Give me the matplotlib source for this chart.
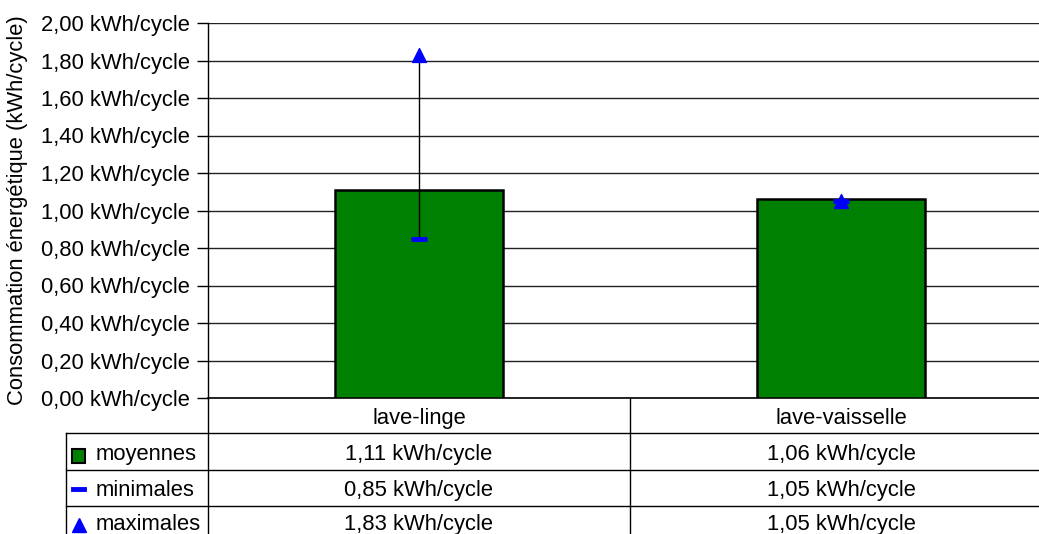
import numpy as np
import matplotlib.pyplot as plt
from matplotlib.transforms import blended_transform_factory
from matplotlib.lines import Line2D
from matplotlib.patches import Rectangle

plt.rcParams['font.family'] = ['Liberation Sans', 'DejaVu Sans']

# donnees
categories = ["lave-linge", "lave-vaisselle"]
moyennes = [1.11, 1.06]
minimales = [0.85, 1.05]
maximales = [1.83, 1.05]
row_labels = ["moyennes", "minimales", "maximales"]
yticks = [0.0, 0.2, 0.4, 0.6, 0.8, 1.0, 1.2, 1.4, 1.6, 1.8, 2.0]

def fmt(v):
    return f"{v:.2f}".replace(".", ",") + " kWh/cycle"

W, H = 1039, 534
fig = plt.figure(figsize=(W / 100, H / 100), dpi=100)

# axe en pixels (le bord droit depasse l'image comme dans l'original)
left, right, top, bottom = 208, 1052, 23, 398
ax = fig.add_axes([left / W, 1 - bottom / H, (right - left) / W, (bottom - top) / H])

x = np.arange(len(categories)) + 0.5
green = "#008000"
blue = "#0000ff"
fs = 15.8

ax.bar(x, moyennes, width=0.4, color=green, edgecolor="black", linewidth=1.8, zorder=3)
for xi, lo, hi in zip(x, minimales, maximales):
    ax.plot([xi, xi], [lo, hi], color="black", lw=1, zorder=4)
ax.scatter(x, minimales, marker="_", s=140, color=blue, linewidths=3.5, zorder=5)
ax.scatter(x, maximales, marker="^", s=100, color=blue, zorder=6)

ax.set_xlim(0, 2)
ax.set_ylim(0, 2)
ax.set_yticks(yticks)
ax.set_yticklabels([fmt(v) for v in yticks], fontsize=fs)
ax.tick_params(axis="y", length=8, width=1, pad=5, direction="out")
ax.tick_params(axis="x", bottom=False, labelbottom=False)
ax.grid(axis="y", color="#222222", lw=1, zorder=0)
for s in ["top", "right"]:
    ax.spines[s].set_visible(False)
ax.spines["left"].set_linewidth(1)
ax.spines["bottom"].set_linewidth(1.2)
ax.set_ylabel("Consommation énergétique (kWh/cycle)", fontsize=fs, labelpad=9)

# tableau sous le graphique
def fy(py):
    return 1 - py / H

def fx(px):
    return px / W

tr = blended_transform_factory(ax.transData, fig.transFigure)
rows = [398, 433, 470, 506, 542]
text_y = [452, 488, 522]  # centres des textes (derniere ligne coupee par le bord)
lc = "black"

for py in rows[1:]:
    fig.add_artist(Line2D([fx(66), 1.05], [fy(py), fy(py)], color=lc, lw=1))
fig.add_artist(Line2D([fx(left), fx(left)], [fy(398), fy(542)], color=lc, lw=1))
fig.add_artist(Line2D([fx(66), fx(66)], [fy(433), fy(542)], color=lc, lw=1))
ax.plot([1, 1], [fy(398), fy(542)], transform=tr, color=lc, lw=1, clip_on=False)

for i, c in enumerate(categories):
    fig.text(x[i], fy(416), c, transform=tr, ha="center", va="center_baseline", fontsize=fs)

series = [moyennes, minimales, maximales]
for r, (lab, vals) in enumerate(zip(row_labels, series)):
    yc = fy(text_y[r])
    fig.text(fx(96), yc, lab, ha="left", va="center_baseline", fontsize=fs)
    for i, v in enumerate(vals):
        fig.text(x[i], yc, fmt(v), transform=tr, ha="center", va="center_baseline", fontsize=fs)

# cles de legende
fig.add_artist(Rectangle((fx(72), fy(463)), 13 / W, 14 / H, facecolor=green,
                         edgecolor="black", lw=1.5))
fig.add_artist(Line2D([fx(73), fx(84)], [fy(489), fy(489)], color=blue, lw=3.5))
fig.add_artist(Line2D([fx(78.5)], [fy(525)], marker="^", markersize=10, color=blue, lw=0))

fig.savefig("out.png", dpi=100)
